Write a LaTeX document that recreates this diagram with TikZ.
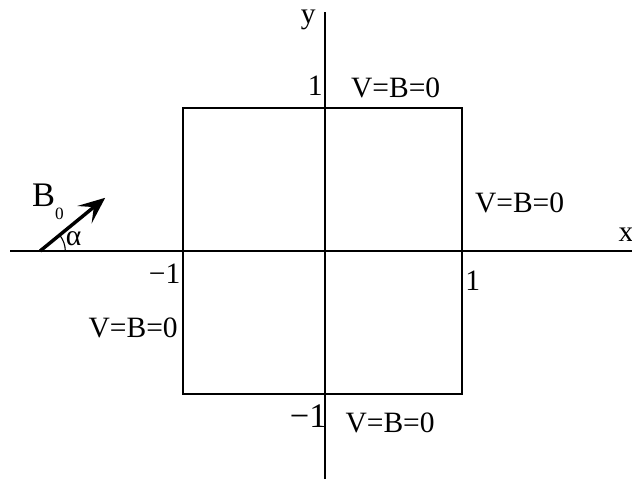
\documentclass[tikz,border=0pt]{standalone}
\usepackage{fontspec}
\setmainfont{Liberation Serif}
\usetikzlibrary{arrows.meta, angles, quotes}

\begin{document}
\begin{tikzpicture}[every node/.style={font=\fontsize{12}{14}\selectfont, inner sep=1pt}]
\useasboundingbox (-4.643,-3.3) rectangle (4.386,3.586);
\coordinate (O) at (0,0);
\coordinate (XL) at (-4.5,0);
\coordinate (XR) at (4.45,0);
\coordinate (YB) at (0,-3.26);
\coordinate (YT) at (0,3.42);
\coordinate (A) at (-2.03,-2.04);
\coordinate (B) at (1.96,-2.04);
\coordinate (C) at (1.96,2.04);
\coordinate (D) at (-2.03,2.04);
\coordinate (P) at (-4.07,0);
\coordinate (Q) at (-3.14,0.76);
\coordinate (R) at (-3.5,0);
\draw[line width=0.45pt] (XL) -- (XR);
\draw[line width=0.45pt] (YB) -- (YT);
\draw[line width=0.8pt] (A) -- (B) -- (C) -- (D) -- cycle;
\draw[line width=1.4pt, -{Stealth[length=3.8mm,width=3.2mm,inset=1.7mm]}] (P) -- (Q);
\draw[line width=0.45pt] pic[draw, angle radius=0.36cm] {angle=R--P--Q};
\node (xlab) at (4.3,0.23) {x};
\node (ylab) at (-0.24,3.3) {y};
\node (one1) at (-0.14,2.36) {1};
\node (top) at (1.01,2.33) {V=B=0};
\node (right) at (2.78,0.68) {V=B=0};
\node (mone1) at (-2.29,-0.33) {−1};
\node (one2) at (2.11,-0.43) {1};
\node (left) at (-2.74,-1.1) {V=B=0};
\node[font=\fontsize{14}{16}\selectfont] (mone2) at (-0.24,-2.36) {−1};
\node (bottom) at (0.93,-2.46) {V=B=0};
\node[anchor=base west, inner sep=0pt, font=\fontsize{14}{16}\selectfont] (Bnull) at (-4.19,0.63) {B\raisebox{-0.8ex}{\scriptsize 0}};
\node (alpha) at (-3.59,0.17) {α};
\end{tikzpicture}
\end{document}
